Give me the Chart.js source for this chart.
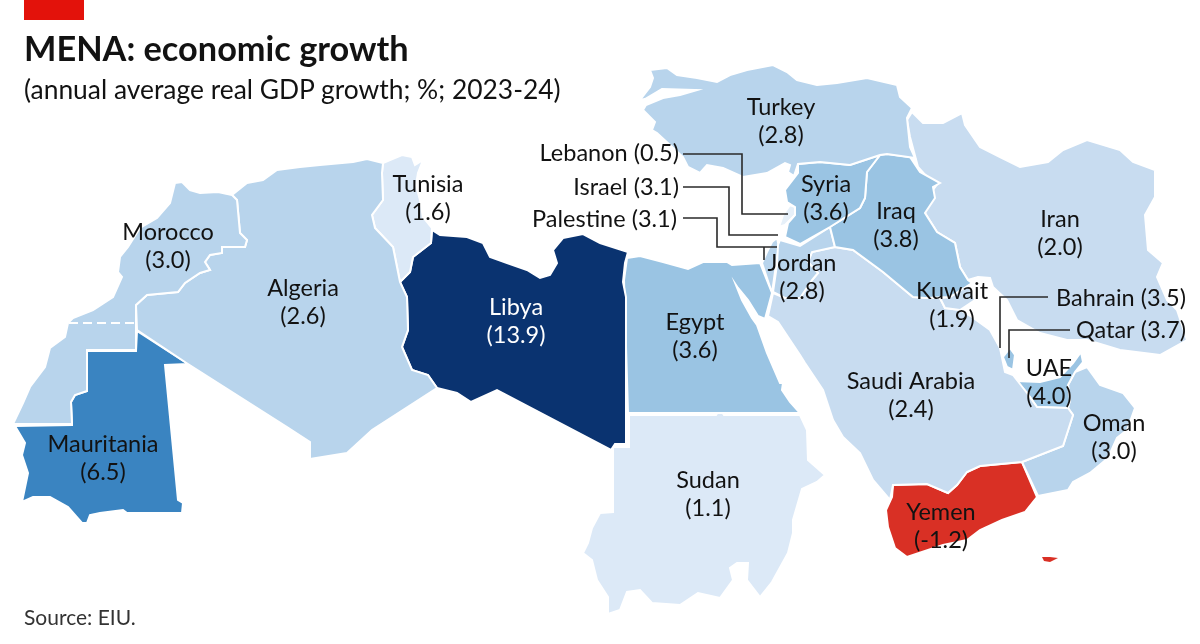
<!DOCTYPE html>
<html>
<head>
<meta charset="utf-8">
<title>MENA: economic growth</title>
<script src="https://cdn.jsdelivr.net/npm/chart.js@4"></script>
<style>
  html, body { margin: 0; padding: 0; background: #fff; }
  #wrap { position: relative; width: 1200px; height: 644px; overflow: hidden; font-family: Lato, sans-serif; color: #121212; }
  #tag { position: absolute; left: 24px; top: 0; width: 60px; height: 20px; background: #e3120b; }
  #title { position: absolute; left: 24px; top: 28px; font-size: 34.3px; font-weight: 700; line-height: 40px; white-space: nowrap; }
  #sub { position: absolute; left: 24px; top: 72px; font-size: 26.4px; line-height: 34px; white-space: nowrap; }
  #source { position: absolute; left: 24px; top: 603px; font-size: 21px; line-height: 28px; color: #333; white-space: nowrap; }
  canvas { position: absolute; left: 0; top: 0; }
</style>
</head>
<body>
<div id="wrap">
  <canvas id="map" width="1200" height="644"></canvas>
  <div id="tag"></div>
  <div id="title">MENA: economic growth</div>
  <div id="sub">(annual average real GDP growth; %; 2023-24)</div>
  <div id="source">Source: EIU.</div>
</div>
<script>
// values
const countries = ["Morocco", "Algeria", "Tunisia", "Libya", "Egypt", "Sudan", "Mauritania", "Turkey", "Syria", "Iraq", "Jordan", "Iran", "Kuwait", "Saudi Arabia", "UAE", "Oman", "Yemen", "Lebanon", "Israel", "Palestine", "Bahrain", "Qatar"];
const growth = [3.0, 2.6, 1.6, 13.9, 3.6, 1.1, 6.5, 2.8, 3.6, 3.8, 2.8, 2.0, 1.9, 2.4, 4.0, 3.0, -1.2, 0.5, 3.1, 3.1, 3.5, 3.7];

// country outlines, traced in map units
const morocco = [[232,195],[218,192],[200,193],[190,190],[182,182],[175,183],[170,203],[157,218],[140,228],[128,247],[120,257],[118,272],[122,277],[113,297],[93,310],[73,318],[68,323],[65,337],[50,348],[45,367],[30,387],[23,403],[13,424],[72,424],[71,402],[75,395],[87,391],[87,350],[136,350],[136,305],[147,295],[178,292],[185,283],[200,273],[210,270],[205,262],[210,255],[222,253],[222,247],[245,247],[247,240],[240,233],[237,200],[232,195]];
const algeria = [[232,195],[247,183],[263,180],[277,170],[300,167],[320,165],[353,162],[367,159],[383,163],[382,173],[383,200],[372,215],[375,228],[393,247],[400,282],[407,297],[408,330],[402,347],[412,370],[428,375],[437,388],[372,430],[347,453],[310,459],[310,442],[287,427],[188,364],[137,330],[136,305],[147,295],[178,292],[185,283],[200,273],[210,270],[205,262],[210,255],[222,253],[222,247],[245,247],[247,240],[240,233],[237,200],[232,195]];
const tunisia = [[383,163],[390,160],[402,155],[412,157],[415,165],[423,160],[418,173],[416,185],[420,200],[423,217],[432,228],[431,243],[413,257],[410,272],[400,282],[393,247],[375,228],[372,215],[383,200],[382,173],[383,163]];
const libya = [[432,230],[440,235],[467,237],[483,243],[490,257],[507,263],[527,270],[540,278],[550,275],[557,263],[553,250],[563,238],[583,234],[600,243],[628,252],[625,263],[623,282],[626,297],[626,444],[615,444],[611,450],[497,390],[471,402],[457,393],[437,388],[428,375],[412,370],[402,347],[408,330],[407,297],[400,282],[410,272],[413,257],[431,243],[432,230]];
const egypt = [[627,258],[640,256],[663,262],[688,269],[703,262],[727,262],[732,265],[760,263],[772,293],[765,319],[758,316],[748,300],[738,288],[736,285],[742,300],[752,318],[757,325],[767,353],[780,383],[783,383],[782,390],[790,402],[800,413],[628,413],[624,280],[627,258]];
const sudan = [[629,415],[716,415],[720,409],[724,415],[800,415],[807,430],[808,460],[825,475],[817,482],[802,489],[793,520],[793,533],[788,553],[772,582],[760,597],[747,580],[748,563],[737,563],[730,568],[733,580],[720,598],[698,593],[680,605],[652,603],[640,590],[627,592],[620,610],[608,614],[608,597],[597,580],[592,560],[583,553],[588,543],[592,528],[600,513],[613,512],[613,447],[629,447],[629,415]];
const mauritania = [[137,331],[188,364],[165,365],[178,500],[183,503],[182,513],[127,513],[123,510],[100,513],[90,515],[87,523],[82,523],[68,507],[50,497],[33,497],[22,502],[28,473],[22,455],[25,443],[15,426],[72,425],[71,402],[75,395],[87,391],[87,351],[136,351],[137,331]];
const turkey = [[650,70],[667,68],[677,75],[697,78],[717,82],[730,75],[747,70],[773,65],[787,72],[797,80],[817,85],[837,83],[867,78],[897,85],[900,97],[912,108],[907,118],[910,147],[915,158],[887,154],[880,155],[850,165],[820,162],[798,164],[794,176],[788,172],[790,165],[785,163],[767,173],[743,177],[723,168],[707,165],[700,173],[688,167],[683,157],[670,145],[657,133],[652,130],[655,122],[643,110],[646,105],[663,98],[680,95],[697,90],[662,89],[645,99],[640,100],[650,87],[653,78],[650,70]];
const syria = [[798,164],[820,162],[850,165],[880,155],[867,172],[865,198],[860,208],[830,227],[800,244],[785,237],[788,223],[795,215],[795,207],[787,202],[785,190],[798,173],[798,164]];
const iraq = [[880,155],[887,154],[910,157],[920,172],[940,183],[933,187],[935,198],[925,213],[937,232],[955,243],[960,267],[968,280],[972,283],[950,297],[925,298],[913,297],[883,272],[853,250],[835,247],[830,227],[860,208],[865,198],[867,172],[880,155]];
const jordan = [[780,240],[800,246],[830,227],[835,247],[812,252],[808,262],[818,273],[812,280],[800,298],[785,298],[773,292],[777,265],[778,245],[780,240]];
const iran = [[912,112],[923,123],[943,123],[962,113],[965,125],[980,147],[1000,157],[1020,167],[1048,162],[1063,150],[1087,140],[1120,150],[1133,162],[1155,170],[1155,197],[1145,215],[1148,250],[1163,263],[1157,277],[1167,300],[1177,310],[1187,340],[1160,355],[1120,350],[1097,343],[1087,340],[1067,340],[1040,333],[1017,320],[1007,300],[993,287],[990,278],[978,277],[968,280],[960,267],[955,243],[937,232],[925,213],[933,190],[938,183],[928,178],[918,167],[910,137],[907,120],[912,112]];
const kuwait = [[940,298],[950,297],[968,283],[975,300],[960,310],[945,308],[940,298]];
const saudi = [[773,293],[768,316],[778,322],[800,355],[805,363],[823,390],[833,420],[843,437],[860,453],[873,480],[890,500],[893,485],[927,484],[948,493],[957,485],[967,472],[980,466],[1022,462],[1063,446],[1073,415],[1068,408],[1037,407],[1027,393],[1013,375],[1005,372],[1000,348],[990,330],[972,317],[960,310],[945,308],[940,298],[913,297],[883,272],[853,250],[835,247],[812,252],[808,262],[818,273],[812,280],[800,298],[785,298],[773,293]];
const uae = [[1016,381],[1040,382],[1060,377],[1073,363],[1081,352],[1083,362],[1075,372],[1068,385],[1070,400],[1068,408],[1037,407],[1027,393],[1016,381]];
const oman = [[1075,372],[1087,367],[1100,385],[1123,393],[1135,408],[1127,430],[1117,438],[1108,458],[1090,473],[1073,482],[1068,490],[1038,496],[1022,462],[1063,446],[1073,415],[1068,408],[1070,400],[1068,385],[1075,372]];
const yemen = [[893,485],[927,484],[948,493],[957,485],[967,472],[980,466],[1022,462],[1037,497],[1025,512],[1002,520],[980,530],[967,540],[943,545],[907,557],[895,548],[888,527],[886,510],[892,497],[893,485]];
const socotra = [[1042,557],[1050,557],[1058,558],[1050,562],[1044,561],[1042,557]];
const lebanon = [[790,205],[795,207],[795,215],[785,225],[779,227],[783,215],[790,205]];
const israel = [[777,238],[779,247],[777,258],[772,293],[762,263],[767,252],[772,242],[777,238]];
const palestine = [[771,253],[777,252],[776,262],[771,262],[771,253]];
const bahrain = [[999,346],[1001,346],[1001,350],[999,350],[999,346]];
const qatar = [[1010,348],[1015,355],[1013,370],[1007,367],[1003,357],[1010,348]];
const outlines = [morocco, algeria, tunisia, libya, egypt, sudan, mauritania, turkey, syria, iraq, jordan, iran, kuwait, saudi, uae, oman, yemen, lebanon, israel, palestine, bahrain, qatar];

// disputed border and the leader lines of the small countries
const saharaLine = [[69,323],[136,323]];
const leaders = [
  [[683,154],[742,154],[742,214],[788,214]],
  [[683,187],[729,187],[729,235],[778,235]],
  [[683,218],[717,218],[717,247],[777,247]],
  [[764,247],[764,260]],
  [[1048,297],[1000,297],[1000,348]],
  [[1070,330],[1009,330],[1009,358]]
];

// where the text goes: x, y of the name line
const labelPos = [[168,232],[303,288],[428,184],[516,307],[695,322],[708,480],[103,444],[781,107],[826,184],[896,211],[802,263],[1060,219],[952,291],[911,381],[1049,368],[1114,423],[941,512],[679,153],[679,187],[677,219],[1186,298],[1186,330]];
const oneLine = ["Lebanon", "Israel", "Palestine", "Bahrain", "Qatar"];

function shade(name, v) {
  if (v < 0) return "#d93025";
  if (v > 10) return "#0a3370";
  if (v > 5) return "#3a84c1";
  if (name === "Lebanon") return "#e6f0f9";
  if (name === "Palestine") return "#e6f0f9";
  if (v >= 3.5) return "#9ac4e3";
  if (v >= 2.6) return "#b8d4ec";
  if (v >= 1.8) return "#c8dcf0";
  return "#dce9f7";
}

const toPts = arr => arr.map(p => ({ x: p[0], y: p[1] }));

const datasets = [];
leaders.forEach(l => datasets.push({
  data: toPts(l), showLine: true, fill: false, borderColor: "#2a2a2a", borderWidth: 1.6, pointRadius: 0
}));
datasets.push({
  data: toPts(saharaLine), showLine: true, fill: false, borderColor: "#fff", borderWidth: 2, borderDash: [9, 5], pointRadius: 0
});
outlines.forEach((o, i) => {
  const col = shade(countries[i], growth[i]);
  datasets.push({
    label: countries[i], data: toPts(o), showLine: true, fill: "shape",
    backgroundColor: col, borderColor: "#fff", borderWidth: 2, pointRadius: 0, tension: 0
  });
});
datasets.push({
  label: "Socotra", data: toPts(socotra), showLine: true, fill: "shape",
  backgroundColor: shade("Yemen", -1.2), borderColor: "#d93025", borderWidth: 0, pointRadius: 0
});

const labelPlugin = {
  id: "countryLabels",
  afterDatasetsDraw(chart) {
    const { ctx, scales: { x, y } } = chart;
    ctx.save();
    ctx.font = "23.5px Lato";
    ctx.textBaseline = "middle";
    countries.forEach((name, i) => {
      const px = x.getPixelForValue(labelPos[i][0]);
      const py = y.getPixelForValue(labelPos[i][1]);
      ctx.fillStyle = name === "Libya" ? "#fff" : "#121212";
      if (oneLine.includes(name)) {
        ctx.textAlign = "right";
        ctx.fillText(name + " (" + growth[i].toFixed(1) + ")", px, py);
      } else {
        ctx.textAlign = "center";
        ctx.fillText(name, px, py);
        ctx.fillText("(" + growth[i].toFixed(1) + ")", px, py + 28.5);
      }
    });
    ctx.restore();
  }
};

new Chart(document.getElementById("map"), {
  type: "scatter",
  data: { datasets: datasets },
  options: {
    responsive: false,
    animation: false,
    layout: { padding: 0 },
    plugins: { legend: { display: false }, tooltip: { enabled: false }, title: { display: false } },
    scales: {
      x: { type: "linear", min: 0, max: 1200, display: false },
      y: { type: "linear", min: 0, max: 644, reverse: true, display: false }
    }
  },
  plugins: [labelPlugin]
});
</script>
</body>
</html>
